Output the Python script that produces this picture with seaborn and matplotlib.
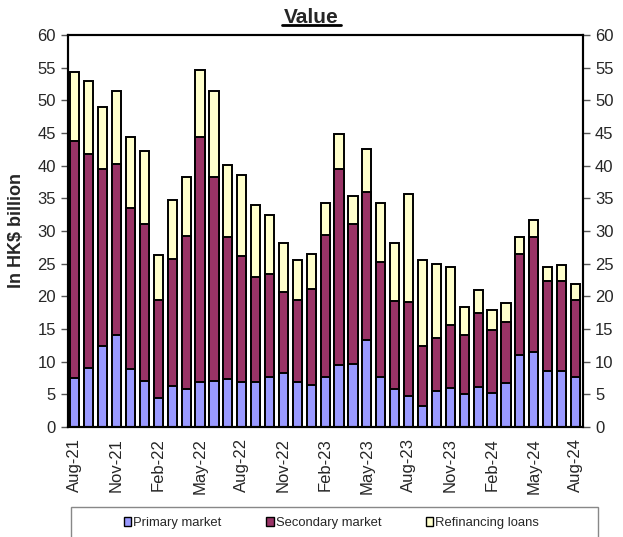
import pandas as pd
import numpy as np
import matplotlib
matplotlib.use('Agg')
import matplotlib.pyplot as plt
import seaborn as sns
from matplotlib.patches import Patch, Rectangle

months = ['Aug-21', 'Sep-21', 'Oct-21', 'Nov-21', 'Dec-21', 'Jan-22', 'Feb-22', 'Mar-22', 'Apr-22',
          'May-22', 'Jun-22', 'Jul-22', 'Aug-22', 'Sep-22', 'Oct-22', 'Nov-22', 'Dec-22', 'Jan-23',
          'Feb-23', 'Mar-23', 'Apr-23', 'May-23', 'Jun-23', 'Jul-23', 'Aug-23', 'Sep-23', 'Oct-23',
          'Nov-23', 'Dec-23', 'Jan-24', 'Feb-24', 'Mar-24', 'Apr-24', 'May-24', 'Jun-24', 'Jul-24',
          'Aug-24']
primary = [7.5, 9.0, 12.4, 14.0, 8.8, 7.0, 4.4, 6.2, 5.8, 6.8, 7.1, 7.4, 6.9, 6.8, 7.7, 8.2, 6.9, 6.4,
           7.7, 9.5, 9.6, 13.3, 7.6, 5.8, 4.7, 3.2, 5.5, 6.0, 5.1, 6.1, 5.2, 6.7, 11.0, 11.5, 8.5, 8.6, 7.6]
secondary = [36.3, 32.8, 27.0, 26.2, 24.7, 24.0, 15.0, 19.5, 23.4, 37.5, 31.2, 21.6, 19.3, 16.1, 15.7,
             12.4, 12.6, 14.7, 21.6, 30.0, 21.4, 22.7, 17.6, 13.4, 14.4, 9.2, 8.1, 9.6, 8.9, 11.4, 9.6,
             9.3, 15.4, 17.5, 13.8, 13.7, 11.8]
refinancing = [10.5, 11.2, 9.6, 11.2, 10.8, 11.2, 6.9, 9.0, 9.0, 10.4, 13.1, 11.1, 12.3, 11.1, 9.1,
               7.6, 6.1, 5.4, 4.9, 5.4, 4.4, 6.6, 9.1, 8.9, 16.5, 13.2, 11.4, 8.9, 4.3, 3.5, 3.1, 3.0,
               2.6, 2.6, 2.1, 2.5, 2.4]

df = pd.DataFrame({'month': months, 'Primary': primary, 'Secondary': secondary, 'Refinancing': refinancing})
df['lvl2'] = df['Primary'] + df['Secondary']
df['lvl3'] = df['lvl2'] + df['Refinancing']

sns.set_style('white')
plt.rcParams['font.family'] = ['Liberation Sans', 'DejaVu Sans']

fig = plt.figure(figsize=(6.23, 5.37), dpi=100)
ax = fig.add_axes([0.109, 0.205, 0.827, 0.730])

# stacked look: draw cumulative totals from the top layer down
edge = dict(edgecolor='black', linewidth=1.4)
sns.barplot(data=df, x='month', y='lvl3', color='#FFFFCC', saturation=1, width=0.66, ax=ax, **edge)
sns.barplot(data=df, x='month', y='lvl2', color='#993366', saturation=1, width=0.66, ax=ax, **edge)
sns.barplot(data=df, x='month', y='Primary', color='#9999FF', saturation=1, width=0.66, ax=ax, **edge)

ax.set_xlim(-0.5, len(months) - 0.45)
ax.set_ylim(0, 60)
ax.set_yticks(np.arange(0, 61, 5))
ax.set_xticks(range(0, len(months), 3))
ax.set_xticklabels(months[::3], rotation=90)
ax.set_xticks(np.arange(-0.5, len(months), 3), minor=True)
ax.tick_params(axis='x', which='major', length=0, pad=8, labelsize=12)
ax.tick_params(axis='x', which='minor', length=5, width=1, direction='out', color='#555555')
ax.tick_params(axis='y', length=5, width=1, direction='out', color='#555555', labelsize=12, left=True)
ax.set_xlabel('')
ax.set_ylabel('In HK$ billion', fontsize=13, fontweight='bold', labelpad=9)
for s in ax.spines.values():
    s.set_color('black')
    s.set_linewidth(1.5)

ax2 = ax.twinx()
ax2.set_ylim(0, 60)
ax2.set_yticks(np.arange(0, 61, 5))
ax2.tick_params(axis='y', length=5, width=1, direction='out', color='#555555', labelsize=12, right=True)
for s in ax2.spines.values():
    s.set_color('black')
    s.set_linewidth(1.5)

title = fig.text(0.5, 0.968, 'Value', ha='center', va='center', fontsize=15, fontweight='bold')
fig.canvas.draw()
bb = title.get_window_extent().transformed(fig.transFigure.inverted())
fig.add_artist(plt.Line2D([bb.x0 - 0.003, bb.x1 + 0.003], [bb.y0 + 0.004, bb.y0 + 0.004], color='black',
                          lw=2, transform=fig.transFigure))

fig.add_artist(Rectangle((0.114, -0.01), 0.846, 0.066, transform=fig.transFigure,
                         fill=False, edgecolor='#888888', linewidth=1))
handles = [Patch(facecolor='#9999FF', edgecolor='black', label='Primary market'),
           Patch(facecolor='#993366', edgecolor='black', label='Secondary market'),
           Patch(facecolor='#FFFFCC', edgecolor='black', label='Refinancing loans')]
fig.legend(handles=handles, loc='center', bbox_to_anchor=(0.532, 0.026), ncol=3, frameon=False,
           fontsize=9.4, handlelength=0.6, handleheight=0.6, handletextpad=0.15, columnspacing=3.4)

fig.savefig('out.png', dpi=100)
